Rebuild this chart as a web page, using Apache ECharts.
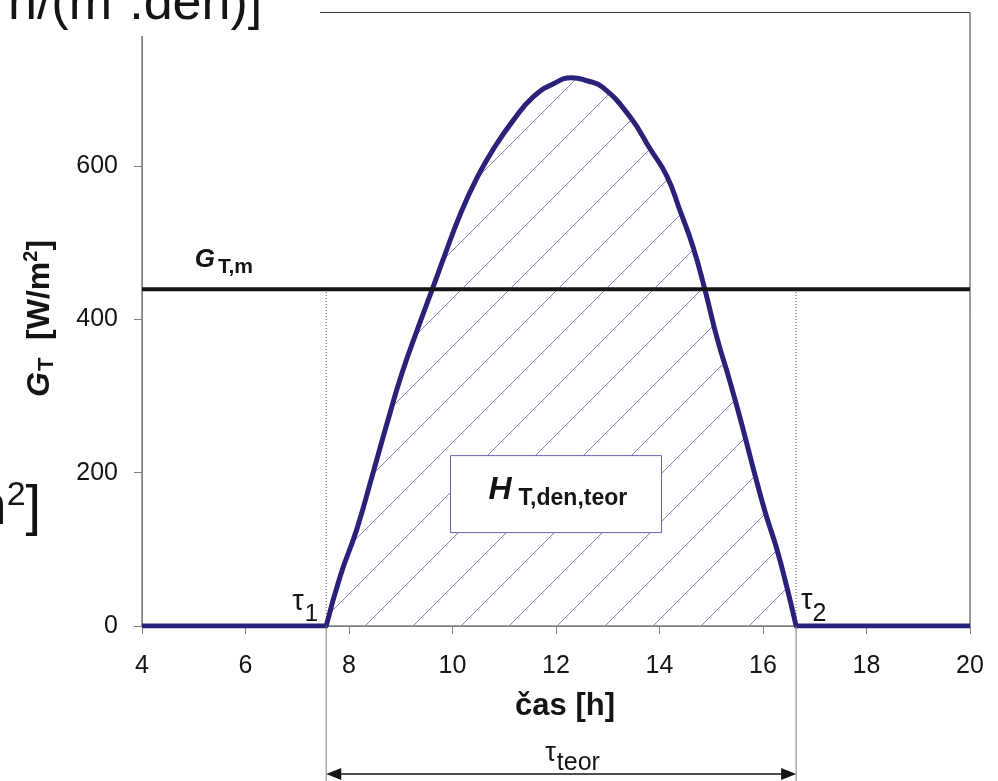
<!DOCTYPE html>
<html>
<head>
<meta charset="utf-8">
<script src="https://cdn.jsdelivr.net/npm/echarts@6/dist/echarts.min.js"></script>
<style>
  html, body { margin: 0; padding: 0; background: #ffffff; }
  #chart { width: 998px; height: 781px; }
</style>
</head>
<body>
<div id="chart"></div>
<script>
// Daily course of global irradiance on a tilted surface (theoretical clear day)
const hours      = [4, 7.56, 7.83, 8.15, 8.47, 8.73, 9.02, 9.34, 9.63, 9.82, 10.15, 10.47, 10.79, 11.18, 11.56, 11.95, 12.3, 12.6, 12.91, 13.43, 13.82, 14.14, 14.40, 14.65, 14.88, 15.11, 15.36, 15.59, 15.81, 16.04, 16.26, 16.46, 16.64, 20];
const irradiance = [0, 0, 65, 126, 201, 263, 329, 390, 443, 478, 537, 584, 622, 660, 690, 707, 715, 711, 702, 664, 622, 587, 541, 494, 438, 376, 319, 263, 206, 149, 102, 51, 0, 0];

// Daily mean irradiance and the theoretical sunshine interval
const meanIrradiance = 439;
const sunrise = 7.56;
const sunset = 16.64;

// Axis ticks
const xTicks = [4, 6, 8, 10, 12, 14, 16, 18, 20];
const yTicks = [0, 200, 400, 600, 800];

const FAMILY = "'Liberation Sans', Arial, sans-serif";
const CURVE = '#2a2278';
const HATCH = '#837dc4';

// Diagonal hatch tile used as the area fill under the curve
function hatchTile() {
  const c = document.createElement('canvas');
  c.width = 48; c.height = 48;
  const g = c.getContext('2d');
  g.strokeStyle = HATCH;
  g.lineWidth = 1;
  g.beginPath();
  g.moveTo(-1, 32); g.lineTo(32, -1);
  g.moveTo(30, 49); g.lineTo(49, 30);
  g.stroke();
  return c;
}

const pairs = hours.map((h, i) => [h, irradiance[i]]);
const dayIdx0 = hours.indexOf(sunrise);
const dayIdx1 = hours.indexOf(sunset);

const chart = echarts.init(document.getElementById('chart'), null, { renderer: 'canvas' });

const option = {
  animation: false,
  backgroundColor: '#ffffff',
  grid: {
    left: 142, right: 28, top: 10, bottom: 155,
    show: true, borderColor: '#3c3c3c', borderWidth: 1, backgroundColor: 'transparent'
  },
  xAxis: {
    type: 'value', min: xTicks[0], max: xTicks[xTicks.length - 1], interval: 2,
    axisLine: { show: true, onZero: false, lineStyle: { color: '#808080', width: 1 } },
    axisTick: { show: true, length: 8, lineStyle: { color: '#808080' } },
    axisLabel: {
      margin: 28, fontSize: 25, color: '#141414', fontFamily: FAMILY,
      formatter: v => xTicks.includes(v) ? String(v) : ''
    },
    splitLine: { show: false }
  },
  yAxis: {
    type: 'value', min: yTicks[0], max: yTicks[yTicks.length - 1], interval: 200,
    axisLine: { show: true, lineStyle: { color: '#808080', width: 1 } },
    axisTick: { show: true, length: 8, lineStyle: { color: '#808080' } },
    axisLabel: {
      margin: 24, fontSize: 25, color: '#141414', fontFamily: FAMILY,
      formatter: v => yTicks.includes(v) ? String(v) : ''
    },
    splitLine: { show: false }
  },
  series: [
    {
      // sunshine interval markers (dotted, up to the mean level)
      type: 'line', symbol: 'none', silent: true, z: 1,
      data: [[sunrise, 0], [sunrise, meanIrradiance]],
      lineStyle: { color: '#555555', width: 1, type: [1, 2] }
    },
    {
      type: 'line', symbol: 'none', silent: true, z: 1,
      data: [[sunset, 0], [sunset, meanIrradiance]],
      lineStyle: { color: '#555555', width: 1, type: [1, 2] }
    },
    {
      // night, before sunrise
      type: 'line', symbol: 'none', silent: true, z: 3,
      data: pairs.slice(0, dayIdx0 + 1),
      lineStyle: { color: CURVE, width: 5 }
    },
    {
      // daytime irradiance with hatched area = daily irradiation
      type: 'line', symbol: 'none', silent: true, z: 3, smooth: 0.5,
      data: pairs.slice(dayIdx0, dayIdx1 + 1),
      lineStyle: { color: CURVE, width: 5, cap: 'round', join: 'round' },
      areaStyle: { color: { image: hatchTile(), repeat: 'repeat' }, opacity: 1 }
    },
    {
      // night, after sunset
      type: 'line', symbol: 'none', silent: true, z: 3,
      data: pairs.slice(dayIdx1),
      lineStyle: { color: CURVE, width: 5 }
    },
    {
      // daily mean irradiance G_T,m
      type: 'line', symbol: 'none', silent: true, z: 5,
      data: [[xTicks[0], meanIrradiance], [xTicks[xTicks.length - 1], meanIrradiance]],
      lineStyle: { color: '#141414', width: 4 }
    }
  ]
};
chart.setOption(option);

// ---------- annotation helpers ----------
const measureCtx = document.createElement('canvas').getContext('2d');
function fontOf(p) {
  return (p.italic ? 'italic ' : 'normal ') + (p.bold ? 'bold ' : 'normal ') + p.size + 'px ' + FAMILY;
}
function widthOf(p) {
  measureCtx.font = fontOf(p);
  return measureCtx.measureText(p.text).width;
}
// A run of text pieces sharing one baseline (with sub/superscripts via dy)
function textRun(x, baseline, pieces, opts) {
  opts = opts || {};
  const z = opts.z || 20;
  let total = 0;
  pieces.forEach(p => { total += (p.dx || 0) + widthOf(p); });
  let cx = opts.center ? -total / 2 : 0;
  const children = pieces.map(p => {
    cx += (p.dx || 0);
    const el = {
      type: 'text',
      z: z,
      x: cx,
      y: (p.dy || 0) - 0.33 * p.size,
      style: {
        text: p.text,
        fontSize: p.size,
        fontFamily: FAMILY,
        fontWeight: p.bold ? 'bold' : 'normal',
        fontStyle: p.italic ? 'italic' : 'normal',
        fill: p.color || '#141414',
        align: 'left', verticalAlign: 'middle',
        textAlign: 'left', textVerticalAlign: 'middle'
      }
    };
    cx += widthOf(p);
    return el;
  });
  return { type: 'group', x: x, y: baseline, rotation: opts.rotation || 0, z: z, children: children };
}

function buildGraphics() {
  const px = (x, y) => chart.convertToPixel({ gridIndex: 0 }, [x, y]);
  const pRise = px(sunrise, 0);
  const pSet = px(sunset, 0);
  const axisY = pRise[1];
  const arrowY = axisY + 148;
  const H = 781;
  const els = [];

  // interval markers continued below the axis
  [pRise[0], pSet[0]].forEach(xx => {
    els.push({ type: 'line', z: 15, shape: { x1: xx, y1: axisY, x2: xx, y2: H },
      style: { stroke: '#808080', lineWidth: 1 } });
  });

  // double-headed arrow for the theoretical sunshine duration
  els.push({ type: 'line', z: 15, shape: { x1: pRise[0] + 4, y1: arrowY, x2: pSet[0] - 4, y2: arrowY },
    style: { stroke: '#141414', lineWidth: 1.5 } });
  els.push({ type: 'polygon', z: 15, shape: { points: [[pRise[0], arrowY], [pRise[0] + 15, arrowY - 6], [pRise[0] + 15, arrowY + 6]] },
    style: { fill: '#141414' } });
  els.push({ type: 'polygon', z: 15, shape: { points: [[pSet[0], arrowY], [pSet[0] - 15, arrowY - 6], [pSet[0] - 15, arrowY + 6]] },
    style: { fill: '#141414' } });
  const mid = (pRise[0] + pSet[0]) / 2;
  els.push(textRun(mid - 16, arrowY - 12, [
    { text: 'τ', size: 27 },
    { text: 'teor', size: 25, dy: 9, dx: 1 }
  ]));

  // tau labels at sunrise / sunset
  els.push(textRun(pRise[0] - 34, axisY - 14, [
    { text: 'τ', size: 29 },
    { text: '1', size: 24, dy: 10, dx: 1 }
  ]));
  els.push(textRun(pSet[0] + 5, axisY - 15, [
    { text: 'τ', size: 29 },
    { text: '2', size: 25, dy: 11, dx: 0 }
  ]));

  // mean irradiance label
  const pMean = px(5, meanIrradiance);
  els.push(textRun(pMean[0] + 1, pMean[1] - 21, [
    { text: 'G', size: 26, bold: true, italic: true },
    { text: 'T,m', size: 21, bold: true, dy: 6, dx: 3 }
  ]));

  // daily irradiation box
  const pBox = px(12, 172);
  const bw = 211, bh = 77;
  const bx = pBox[0] - bw / 2, by = pBox[1] - bh / 2;
  els.push({ type: 'rect', z: 18, shape: { x: bx, y: by, width: bw, height: bh },
    style: { fill: '#ffffff', stroke: '#6a60b0', lineWidth: 1 } });
  els.push(textRun(bx + 38, by + 45, [
    { text: 'H', size: 32, bold: true, italic: true },
    { text: 'T,den,teor', size: 23, bold: true, dy: 6, dx: 7 }
  ], { z: 19 }));

  // axis titles
  els.push(textRun(565, 717, [{ text: 'čas [h]', size: 31, bold: true }], { center: true }));
  els.push(textRun(51, 397, [
    { text: 'G', size: 32, bold: true, italic: true },
    { text: 'T', size: 22, bold: true, dy: 3, dx: 1 },
    { text: '  [W/m', size: 32, bold: true },
    { text: '2', size: 20, bold: true, dy: -13 },
    { text: ']', size: 32, bold: true }
  ], { rotation: Math.PI / 2 }));

  // unit labels of the neighbouring figure, cut by the page edges
  els.push({ type: 'rect', z: 25, shape: { x: 0, y: 0, width: 320, height: 36 }, style: { fill: '#ffffff' } });
  els.push(textRun(8, 22, [
    { text: 'h/(m', size: 52 },
    { text: '2', size: 31, dy: -22 },
    { text: '.den)]', size: 52 }
  ], { z: 26 }));
  els.push(textRun(-40, 527, [
    { text: 'm', size: 56 },
    { text: '2', size: 34, dy: -20 },
    { text: ']', size: 56 }
  ]));

  return els;
}

chart.setOption({ graphic: { elements: buildGraphics() } });
</script>
</body>
</html>
